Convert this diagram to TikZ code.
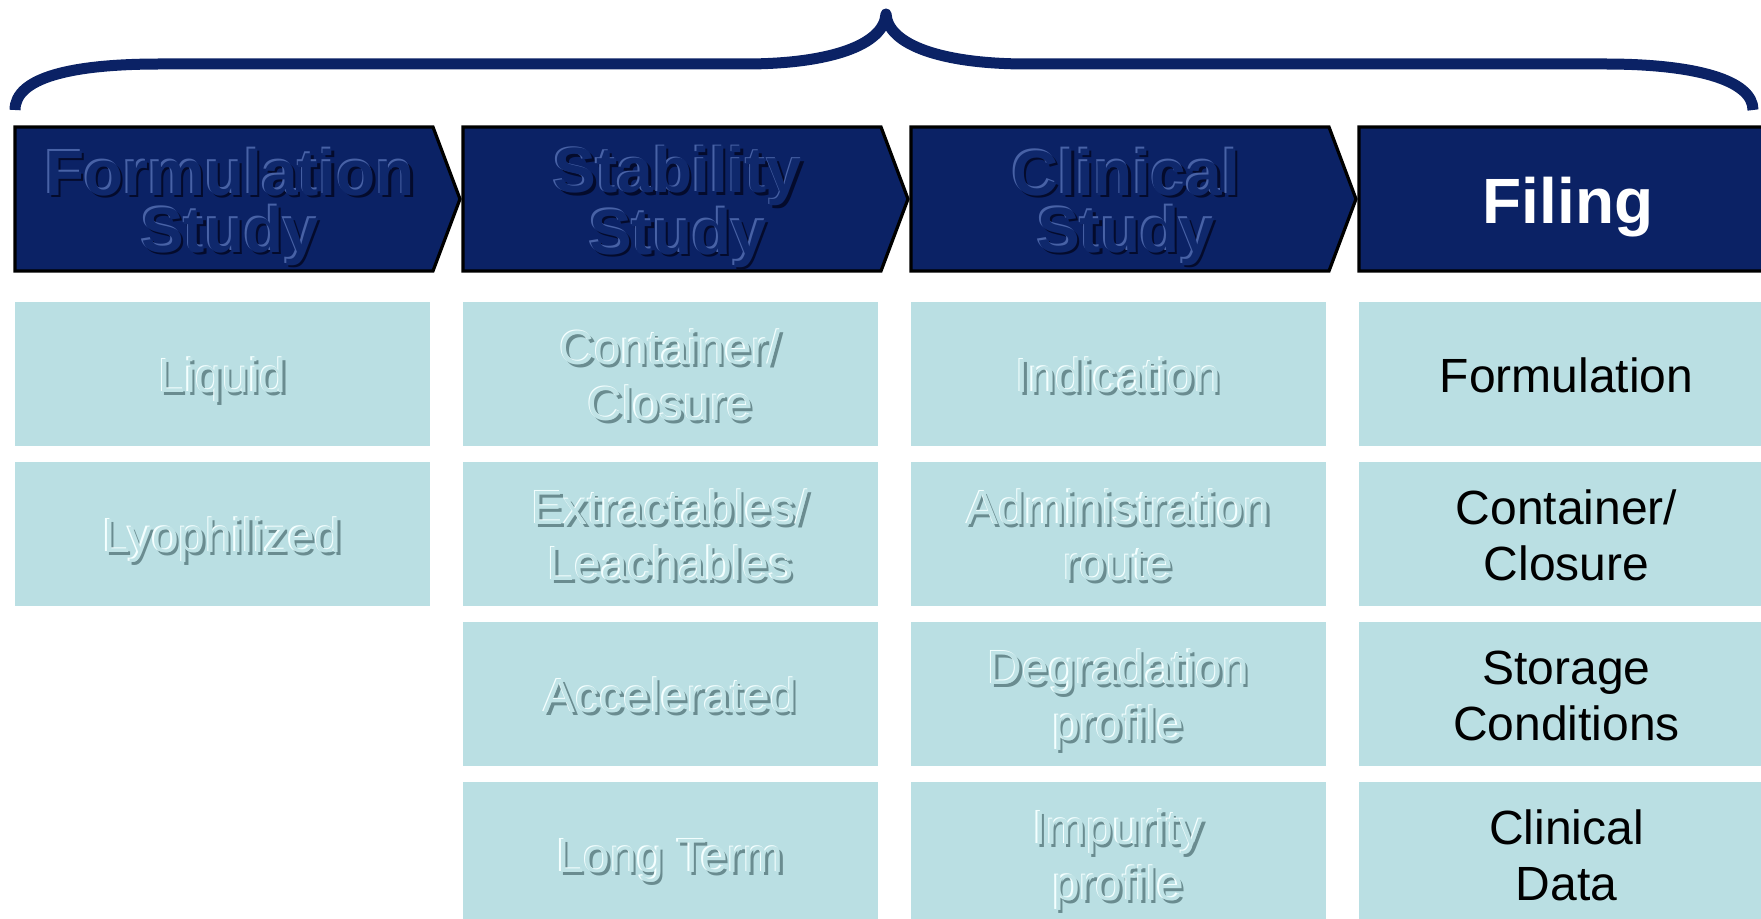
\documentclass[tikz,border=0pt]{standalone}
\usepackage{fontspec}
\setmainfont{Liberation Sans}
\definecolor{navy}{HTML}{0B2265}
\definecolor{navyhi}{HTML}{4862A6}
\definecolor{navysh}{HTML}{040B2C}
\definecolor{navytx}{HTML}{0F286C}
\definecolor{pale}{HTML}{BADFE3}
\definecolor{palehi}{HTML}{F4FFFF}
\definecolor{palesh}{HTML}{6A8C90}
\definecolor{paletx}{HTML}{C0E3E6}
\newcommand{\pstrut}{\rule[-0.212em]{0pt}{1.117em}}
\tikzset{
  hdr/.style={fill=navy, draw=black, line width=1.6pt, line join=miter},
  lbox/.style={fill=pale, minimum width=207.5pt, minimum height=72pt, inner sep=0pt, outer sep=0pt},
  htxt/.style={align=center, font=\fontsize{32}{28.5}\selectfont\bfseries, inner sep=0pt},
  ltxt/.style={align=center, font=\fontsize{24}{28}\selectfont, inner sep=0pt},
  bracestroke/.style={draw=navy, line width=5.5pt, line join=round}
}
\newcommand{\embH}[3]{%
  \node[htxt, text=navysh] at ([shift={(1.3pt,-1.3pt)}]#2) {#3};
  \node[htxt, text=navyhi] at ([shift={(-0.8pt,0.8pt)}]#2) {#3};
  \node[htxt, text=navytx] (#1) at (#2) {#3};}
\newcommand{\embL}[3]{%
  \node[ltxt, text=palesh] at ([shift={(1.2pt,-2.2pt)}]#2) {\pstrut#3\pstrut};
  \node[ltxt, text=palehi] at ([shift={(-0.7pt,-0.3pt)}]#2) {\pstrut#3\pstrut};
  \node[ltxt, text=paletx] (#1) at ([shift={(0pt,-1pt)}]#2) {\pstrut#3\pstrut};}
\newcommand{\plainL}[3]{%
  \node[ltxt, text=black] (#1) at ([shift={(0pt,-1pt)}]#2) {\pstrut#3\pstrut};}
\begin{document}
\begin{tikzpicture}[x=0.5pt,y=-0.5pt]
\useasboundingbox (0,0) rectangle (1761,919);
\clip (0,0) rectangle (1761,919);
% brace
\draw[bracestroke] (15,110) .. controls (15,78) and (70,64) .. (160,64) -- (745,64)
  .. controls (830,64) and (884,45) .. (886,14)
  .. controls (888,45) and (942,64) .. (1027,64) -- (1605,64)
  .. controls (1695,64) and (1753,80) .. (1753,110);
% header chevrons
\foreach \L/\n in {15/1,463/2,911/3,1359/4} {
  \draw[hdr] (\L,127) -- ++(418,0) -- ++(27,72) -- ++(-27,72) -- ++(-418,0) -- cycle;
}
\coordinate (hc1) at (230,207);
\coordinate (hc2) at (678,207);
\coordinate (hc3) at (1126,207);
\coordinate (hc4) at (1568,207);
\embH{t1}{hc1}{Formulation\\Study}
\embH{t2}{hc2}{Stability\\Study}
\embH{t3}{hc3}{Clinical\\Study}
\node[htxt, text=white] (t4) at (hc4) {Filing};
% light boxes
\node[lbox] (b11) at (222.5,374) {};
\node[lbox] (b12) at (222.5,534) {};
\foreach \c/\x in {2/670.5,3/1118.5,4/1566.5} {
  \foreach \r/\y in {1/374,2/534,3/694,4/854} {
    \node[lbox] (b\c\r) at (\x,\y) {};
  }
}
\embL{l11}{b11.center}{Liquid}
\embL{l12}{b12.center}{Lyophilized}
\embL{l21}{b21.center}{Container/\\Closure}
\embL{l22}{b22.center}{Extractables/\\Leachables}
\embL{l23}{b23.center}{Accelerated}
\embL{l24}{b24.center}{Long Term}
\embL{l31}{b31.center}{Indication}
\embL{l32}{b32.center}{Administration\\route}
\embL{l33}{b33.center}{Degradation\\profile}
\embL{l34}{b34.center}{Impurity\\profile}
\plainL{l41}{b41.center}{Formulation}
\plainL{l42}{b42.center}{Container/\\Closure}
\plainL{l43}{b43.center}{Storage\\Conditions}
\plainL{l44}{b44.center}{Clinical\\Data}
\end{tikzpicture}
\end{document}
